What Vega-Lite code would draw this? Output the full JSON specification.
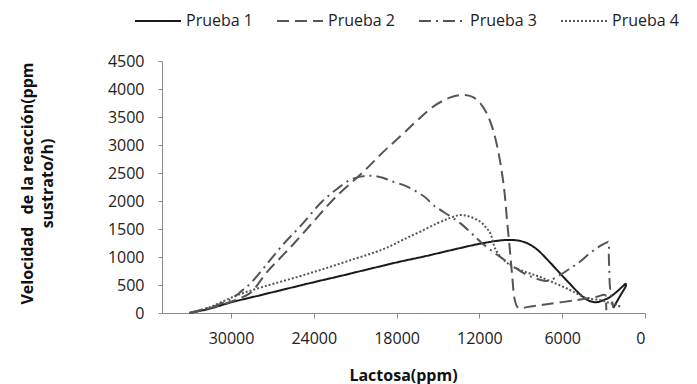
{
  "$schema": "https://vega.github.io/schema/vega-lite/v6.json",
  "autosize": "none",
  "width": 483,
  "height": 252,
  "padding": {"left": 162, "top": 61, "right": 52, "bottom": 71},
  "background": "white",
  "config": {
    "view": {"stroke": null},
    "font": "Open Sans",
    "axis": {"grid": false, "domainColor": "#8a8a8a", "tickColor": "#8a8a8a", "labelColor": "#222", "labelFontSize": 16, "labelFont": "Open Sans", "titleFont": "Open Sans", "titleFontWeight": "bold", "titleFontSize": 16, "titleColor": "#111"},
    "legend": {"orient": "none", "legendX": -28, "legendY": -64, "direction": "horizontal", "symbolType": "stroke", "symbolSize": 2116, "symbolStrokeWidth": 2, "labelFontSize": 16, "labelFont": "Open Sans", "labelColor": "#222", "columnPadding": 20, "labelOffset": 4, "padding": 0}
  },
  "data": {"values": [
    {"p":"Prueba 1","i":0,"x":33000,"y":0},
    {"p":"Prueba 1","i":1,"x":31500,"y":80},
    {"p":"Prueba 1","i":2,"x":30000,"y":190},
    {"p":"Prueba 1","i":3,"x":28000,"y":310},
    {"p":"Prueba 1","i":4,"x":26000,"y":430},
    {"p":"Prueba 1","i":5,"x":24000,"y":550},
    {"p":"Prueba 1","i":6,"x":22000,"y":665},
    {"p":"Prueba 1","i":7,"x":20000,"y":785},
    {"p":"Prueba 1","i":8,"x":17700,"y":920},
    {"p":"Prueba 1","i":9,"x":16000,"y":1010},
    {"p":"Prueba 1","i":10,"x":14000,"y":1125},
    {"p":"Prueba 1","i":11,"x":12000,"y":1235},
    {"p":"Prueba 1","i":12,"x":10500,"y":1295},
    {"p":"Prueba 1","i":13,"x":9700,"y":1305},
    {"p":"Prueba 1","i":14,"x":9000,"y":1285},
    {"p":"Prueba 1","i":15,"x":8400,"y":1230},
    {"p":"Prueba 1","i":16,"x":7800,"y":1130},
    {"p":"Prueba 1","i":17,"x":7100,"y":960},
    {"p":"Prueba 1","i":18,"x":6500,"y":800},
    {"p":"Prueba 1","i":19,"x":5900,"y":640},
    {"p":"Prueba 1","i":20,"x":5400,"y":510},
    {"p":"Prueba 1","i":21,"x":4900,"y":380},
    {"p":"Prueba 1","i":22,"x":4400,"y":270},
    {"p":"Prueba 1","i":23,"x":3900,"y":205},
    {"p":"Prueba 1","i":24,"x":3450,"y":195},
    {"p":"Prueba 1","i":25,"x":3000,"y":230},
    {"p":"Prueba 1","i":26,"x":2500,"y":290},
    {"p":"Prueba 1","i":27,"x":2000,"y":390},
    {"p":"Prueba 1","i":28,"x":1600,"y":480},
    {"p":"Prueba 1","i":29,"x":1400,"y":520},
    {"p":"Prueba 1","i":30,"x":1380,"y":490},
    {"p":"Prueba 1","i":31,"x":1650,"y":370},
    {"p":"Prueba 1","i":32,"x":2000,"y":220},
    {"p":"Prueba 1","i":33,"x":2300,"y":90},

    {"p":"Prueba 2","i":0,"x":33000,"y":0},
    {"p":"Prueba 2","i":1,"x":31500,"y":90},
    {"p":"Prueba 2","i":2,"x":30000,"y":200},
    {"p":"Prueba 2","i":3,"x":29000,"y":300},
    {"p":"Prueba 2","i":4,"x":28500,"y":380},
    {"p":"Prueba 2","i":5,"x":27350,"y":745},
    {"p":"Prueba 2","i":6,"x":26400,"y":990},
    {"p":"Prueba 2","i":7,"x":25400,"y":1250},
    {"p":"Prueba 2","i":8,"x":24000,"y":1640},
    {"p":"Prueba 2","i":9,"x":22500,"y":2050},
    {"p":"Prueba 2","i":10,"x":20500,"y":2500},
    {"p":"Prueba 2","i":11,"x":18870,"y":2900},
    {"p":"Prueba 2","i":12,"x":17711,"y":3160},
    {"p":"Prueba 2","i":13,"x":16500,"y":3440},
    {"p":"Prueba 2","i":14,"x":15320,"y":3690},
    {"p":"Prueba 2","i":15,"x":14100,"y":3850},
    {"p":"Prueba 2","i":16,"x":13130,"y":3895},
    {"p":"Prueba 2","i":17,"x":12500,"y":3860},
    {"p":"Prueba 2","i":18,"x":11930,"y":3744},
    {"p":"Prueba 2","i":19,"x":11500,"y":3580},
    {"p":"Prueba 2","i":20,"x":11085,"y":3327},
    {"p":"Prueba 2","i":21,"x":10750,"y":3020},
    {"p":"Prueba 2","i":22,"x":10480,"y":2678},
    {"p":"Prueba 2","i":23,"x":10200,"y":2200},
    {"p":"Prueba 2","i":24,"x":10000,"y":1660},
    {"p":"Prueba 2","i":25,"x":9800,"y":1150},
    {"p":"Prueba 2","i":26,"x":9620,"y":650},
    {"p":"Prueba 2","i":27,"x":9450,"y":250},
    {"p":"Prueba 2","i":28,"x":9250,"y":110},
    {"p":"Prueba 2","i":29,"x":9000,"y":85},
    {"p":"Prueba 2","i":30,"x":8550,"y":105},
    {"p":"Prueba 2","i":31,"x":7000,"y":160},
    {"p":"Prueba 2","i":32,"x":4940,"y":232},
    {"p":"Prueba 2","i":33,"x":3500,"y":290},
    {"p":"Prueba 2","i":34,"x":2890,"y":321},
    {"p":"Prueba 2","i":35,"x":2830,"y":200},
    {"p":"Prueba 2","i":36,"x":2800,"y":50},

    {"p":"Prueba 3","i":0,"x":33000,"y":0},
    {"p":"Prueba 3","i":1,"x":31500,"y":100},
    {"p":"Prueba 3","i":2,"x":30000,"y":250},
    {"p":"Prueba 3","i":3,"x":29200,"y":400},
    {"p":"Prueba 3","i":4,"x":28560,"y":536},
    {"p":"Prueba 3","i":5,"x":27350,"y":887},
    {"p":"Prueba 3","i":6,"x":26200,"y":1230},
    {"p":"Prueba 3","i":7,"x":24940,"y":1560},
    {"p":"Prueba 3","i":8,"x":23400,"y":1990},
    {"p":"Prueba 3","i":9,"x":22300,"y":2220},
    {"p":"Prueba 3","i":10,"x":21330,"y":2381},
    {"p":"Prueba 3","i":11,"x":20500,"y":2440},
    {"p":"Prueba 3","i":12,"x":19880,"y":2452},
    {"p":"Prueba 3","i":13,"x":19000,"y":2415},
    {"p":"Prueba 3","i":14,"x":18430,"y":2360},
    {"p":"Prueba 3","i":15,"x":17230,"y":2256},
    {"p":"Prueba 3","i":16,"x":16000,"y":2080},
    {"p":"Prueba 3","i":17,"x":15300,"y":1920},
    {"p":"Prueba 3","i":18,"x":14100,"y":1726},
    {"p":"Prueba 3","i":19,"x":13370,"y":1601},
    {"p":"Prueba 3","i":20,"x":12600,"y":1430},
    {"p":"Prueba 3","i":21,"x":11930,"y":1274},
    {"p":"Prueba 3","i":22,"x":11000,"y":1090},
    {"p":"Prueba 3","i":23,"x":10000,"y":917},
    {"p":"Prueba 3","i":24,"x":8800,"y":714},
    {"p":"Prueba 3","i":25,"x":7700,"y":600},
    {"p":"Prueba 3","i":26,"x":7000,"y":575},
    {"p":"Prueba 3","i":27,"x":6150,"y":679},
    {"p":"Prueba 3","i":28,"x":5400,"y":800},
    {"p":"Prueba 3","i":29,"x":4700,"y":920},
    {"p":"Prueba 3","i":30,"x":3980,"y":1071},
    {"p":"Prueba 3","i":31,"x":3300,"y":1190},
    {"p":"Prueba 3","i":32,"x":2750,"y":1260},
    {"p":"Prueba 3","i":33,"x":2650,"y":1270},
    {"p":"Prueba 3","i":34,"x":2620,"y":1000},
    {"p":"Prueba 3","i":35,"x":2580,"y":714},
    {"p":"Prueba 3","i":36,"x":2550,"y":500},
    {"p":"Prueba 3","i":37,"x":2450,"y":300},
    {"p":"Prueba 3","i":38,"x":2300,"y":100},

    {"p":"Prueba 4","i":0,"x":33000,"y":0},
    {"p":"Prueba 4","i":1,"x":31500,"y":110},
    {"p":"Prueba 4","i":2,"x":29520,"y":321},
    {"p":"Prueba 4","i":3,"x":27500,"y":480},
    {"p":"Prueba 4","i":4,"x":25180,"y":645},
    {"p":"Prueba 4","i":5,"x":23000,"y":810},
    {"p":"Prueba 4","i":6,"x":21000,"y":970},
    {"p":"Prueba 4","i":7,"x":19500,"y":1090},
    {"p":"Prueba 4","i":8,"x":18500,"y":1190},
    {"p":"Prueba 4","i":9,"x":17470,"y":1316},
    {"p":"Prueba 4","i":10,"x":16300,"y":1450},
    {"p":"Prueba 4","i":11,"x":15060,"y":1601},
    {"p":"Prueba 4","i":12,"x":14100,"y":1700},
    {"p":"Prueba 4","i":13,"x":13370,"y":1750},
    {"p":"Prueba 4","i":14,"x":12700,"y":1720},
    {"p":"Prueba 4","i":15,"x":11930,"y":1630},
    {"p":"Prueba 4","i":16,"x":11500,"y":1520},
    {"p":"Prueba 4","i":17,"x":11200,"y":1420},
    {"p":"Prueba 4","i":18,"x":10840,"y":1140},
    {"p":"Prueba 4","i":19,"x":10300,"y":960},
    {"p":"Prueba 4","i":20,"x":9540,"y":821},
    {"p":"Prueba 4","i":21,"x":8500,"y":720},
    {"p":"Prueba 4","i":22,"x":7590,"y":643},
    {"p":"Prueba 4","i":23,"x":6500,"y":530},
    {"p":"Prueba 4","i":24,"x":5420,"y":410},
    {"p":"Prueba 4","i":25,"x":4800,"y":330},
    {"p":"Prueba 4","i":26,"x":4215,"y":262},
    {"p":"Prueba 4","i":27,"x":3250,"y":232},
    {"p":"Prueba 4","i":28,"x":2600,"y":180},
    {"p":"Prueba 4","i":29,"x":2050,"y":143},
    {"p":"Prueba 4","i":30,"x":1810,"y":113}
  ]},
  "mark": {"type": "line", "interpolate": "catmull-rom", "strokeWidth": 2},
  "encoding": {
    "x": {"field": "x", "type": "quantitative",
      "scale": {"domain": [0, 35000], "reverse": true, "nice": false, "zero": false},
      "axis": {"values": [0, 6000, 12000, 18000, 24000, 30000], "format": "d", "title": "Lactosa(ppm)", "tickSize": 5, "labelPadding": 12, "titleX": 241, "titleY": 62, "titleBaseline": "middle", "titleAlign": "center"}},
    "y": {"field": "y", "type": "quantitative",
      "scale": {"domain": [0, 4500], "nice": false},
      "axis": {"values": [0, 500, 1000, 1500, 2000, 2500, 3000, 3500, 4000, 4500], "format": "d", "title": ["Velocidad\u00a0\u00a0\u00a0de la reacción(ppm", "sustrato/h)"], "tickSize": 4, "labelPadding": 14, "titleX": -135, "titleY": 122, "titleAngle": -90, "titleAlign": "center", "titleBaseline": "middle", "titleLineHeight": 20}},
    "color": {"field": "p", "type": "nominal", "title": null,
      "scale": {"domain": ["Prueba 1", "Prueba 2", "Prueba 3", "Prueba 4"], "range": ["#1a1a1a", "#555555", "#555555", "#555555"]}},
    "strokeDash": {"field": "p", "type": "nominal", "title": null,
      "scale": {"domain": ["Prueba 1", "Prueba 2", "Prueba 3", "Prueba 4"], "range": [[1, 0], [12, 6], [12, 5, 2, 5], [2, 2]]}},
    "order": {"field": "i", "type": "quantitative"}
  }
}
